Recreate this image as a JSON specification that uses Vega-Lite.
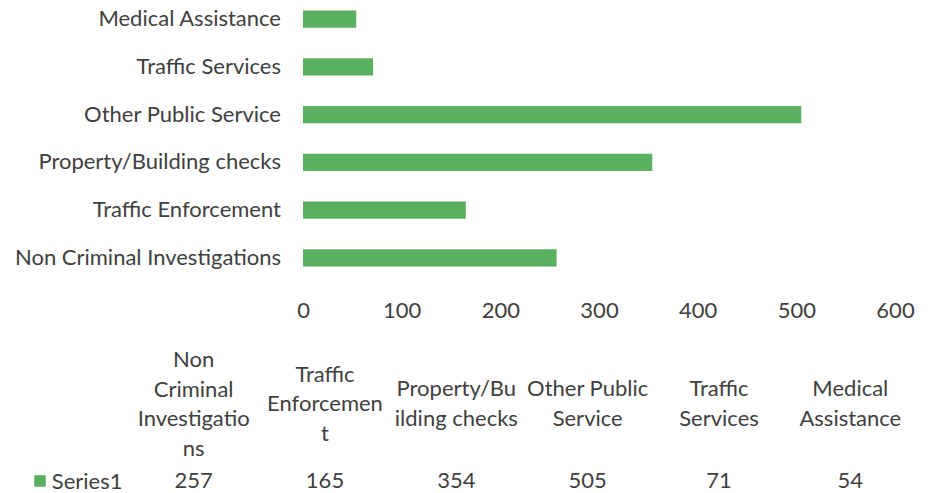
{
  "$schema": "https://vega.github.io/schema/vega-lite/v6.json",
  "background": "white",
  "padding": {"left": 14, "top": 0, "right": 0, "bottom": 0},
  "data": {"values": [
    {"category": "Non Criminal Investigations", "value": 257, "header": ["Non", "Criminal", "Investigatio", "ns"], "series": "Series1"},
    {"category": "Traffic Enforcement", "value": 165, "header": ["Traffic", "Enforcemen", "t"], "series": "Series1"},
    {"category": "Property/Building checks", "value": 354, "header": ["Property/Bu", "ilding checks"], "series": "Series1"},
    {"category": "Other Public Service", "value": 505, "header": ["Other Public", "Service"], "series": "Series1"},
    {"category": "Traffic Services", "value": 71, "header": ["Traffic", "Services"], "series": "Series1"},
    {"category": "Medical Assistance", "value": 54, "header": ["Medical", "Assistance"], "series": "Series1"}
  ]},
  "spacing": 6,
  "vconcat": [
    {
      "spacing": 15,
      "hconcat": [
        {
          "width": 267,
          "height": 277,
          "mark": {"type": "text", "align": "right", "baseline": "middle"},
          "encoding": {
            "y": {
              "field": "category", "type": "nominal",
              "sort": ["Medical Assistance", "Traffic Services", "Other Public Service", "Property/Building checks", "Traffic Enforcement", "Non Criminal Investigations"],
              "scale": {"type": "band", "paddingInner": 0.64, "paddingOuter": 0.22},
              "axis": null
            },
            "x": {"value": "width"},
            "text": {"field": "category"}
          }
        },
        {
          "width": 592,
          "height": 277,
          "mark": {"type": "bar", "color": "#5BB05F"},
          "encoding": {
            "y": {
              "field": "category", "type": "nominal",
              "sort": ["Medical Assistance", "Traffic Services", "Other Public Service", "Property/Building checks", "Traffic Enforcement", "Non Criminal Investigations"],
              "scale": {"type": "band", "paddingInner": 0.64, "paddingOuter": 0.22},
              "axis": null
            },
            "x": {
              "field": "value", "type": "quantitative",
              "scale": {"domain": [0, 600], "nice": false},
              "axis": {"title": null, "values": [0, 100, 200, 300, 400, 500, 600], "grid": false, "domain": false, "ticks": false, "labelPadding": 23, "labelFlush": false}
            }
          }
        }
      ]
    },
    {
      "spacing": 62,
      "bounds": "flush",
      "hconcat": [
        {
          "width": 52,
          "height": 154,
          "mark": {"type": "point", "shape": "square", "filled": true, "size": 110, "color": "#5BB05F", "opacity": 1},
          "encoding": {
            "y": {"field": "series", "type": "nominal", "scale": {"type": "point", "align": 1}, "axis": null}
          }
        },
        {
          "width": 788,
          "height": 154,
          "encoding": {
            "x": {"field": "category", "type": "nominal", "sort": null, "scale": {"paddingInner": 0, "paddingOuter": 0}, "axis": null}
          },
          "layer": [
            {
              "transform": [{"filter": "length(datum.header) == 4"}],
              "mark": {"type": "text", "baseline": "middle", "lineHeight": 29.5, "dy": -44},
              "encoding": {"text": {"field": "header"}}
            },
            {
              "transform": [{"filter": "length(datum.header) == 3"}],
              "mark": {"type": "text", "baseline": "middle", "lineHeight": 29.5, "dy": -29.5},
              "encoding": {"text": {"field": "header"}}
            },
            {
              "transform": [{"filter": "length(datum.header) == 2"}],
              "mark": {"type": "text", "baseline": "middle", "lineHeight": 29.5, "dy": -15},
              "encoding": {"text": {"field": "header"}}
            },
            {
              "mark": {"type": "text", "baseline": "middle"},
              "encoding": {
                "y": {"field": "series", "type": "nominal", "scale": {"type": "point", "align": 1},
                      "axis": {"title": null, "domain": false, "ticks": false, "labelPadding": 6}},
                "text": {"field": "value", "type": "quantitative"}
              }
            }
          ]
        }
      ]
    }
  ],
  "config": {
    "font": "Lato",
    "view": {"stroke": null},
    "axis": {"labelColor": "#404040", "labelFont": "Lato", "labelFontSize": 22},
    "text": {"color": "#404040", "font": "Lato", "fontSize": 22}
  }
}
